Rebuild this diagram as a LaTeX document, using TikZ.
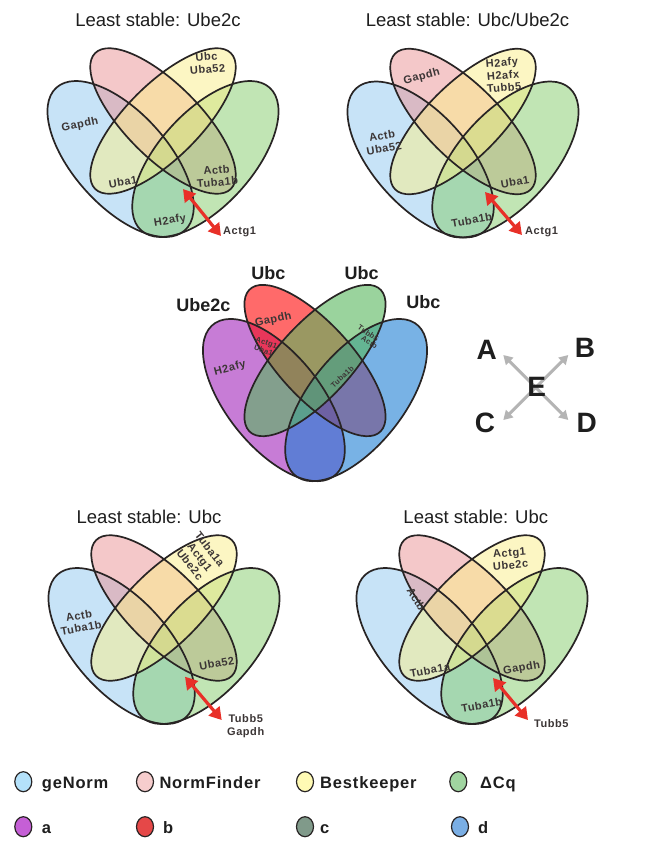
\documentclass[tikz,border=0pt]{standalone}
\usepackage{fontspec}
\setmainfont{Liberation Sans}
\newfontfamily\labf[LetterSpace=5]{Liberation Sans}
\usetikzlibrary{arrows.meta}
\definecolor{cBlue}{RGB}{145,201,241}
\definecolor{cPink}{RGB}{235,147,149}
\definecolor{cYellow}{RGB}{251,239,137}
\definecolor{cGreen}{RGB}{133,205,107}
\definecolor{mPurple}{RGB}{163,38,188}
\definecolor{mRed}{RGB}{255,8,8}
\definecolor{mBlue}{RGB}{30,127,213}
\definecolor{mGreen}{RGB}{87,183,93}
\definecolor{outl}{RGB}{40,36,36}
\definecolor{labc}{RGB}{60,54,54}
\definecolor{titc}{RGB}{30,30,30}
\definecolor{arrred}{RGB}{232,48,40}
\definecolor{egray}{RGB}{180,180,180}
\definecolor{lgBlue}{RGB}{180,225,250}
\definecolor{lgPink}{RGB}{246,205,205}
\definecolor{lgYellow}{RGB}{255,250,180}
\definecolor{lgGreen}{RGB}{160,212,160}
\definecolor{lgA}{RGB}{197,95,214}
\definecolor{lgB}{RGB}{229,72,72}
\definecolor{lgC}{RGB}{128,154,138}
\definecolor{lgD}{RGB}{122,174,228}
\tikzset{
  vline/.style={draw=outl, line width=1.7pt},
  vlabel/.style={font=\labf\bfseries\fontsize{11}{12.5}\selectfont, text=labc, align=center, inner sep=0pt},
  vtitle/.style={font=\fontsize{18.5}{20}\selectfont, text=titc, anchor=base, inner sep=0pt},
  redarr/.style={draw=arrred, line width=3.2pt, arrows={Triangle[length=12pt,width=14pt]-Triangle[length=12pt,width=14pt]}},
  garr/.style={draw=egray, line width=3pt, arrows={Triangle[length=9pt,width=10pt]-Triangle[length=9pt,width=10pt]}},
  vbig/.style={font=\bfseries\fontsize{18}{20}\selectfont, text=titc, inner sep=0pt},
  vsmall/.style={font=\labf\bfseries\fontsize{7.5}{8.5}\selectfont, text=labc, align=center, inner sep=0pt},
  elet/.style={font=\bfseries\fontsize{28}{30}\selectfont, text=titc, inner sep=0pt},
  legc/.style={draw=outl, line width=1.2pt},
  legt/.style={font=\labf\bfseries\fontsize{16.5}{18}\selectfont, text=titc, anchor=base west, inner sep=0pt},
  outL/.style={rotate around={-48:(-42.4,109)}},
  inL/.style={rotate around={-45:(0,71)}},
  inR/.style={rotate around={45:(0,71)}},
  outR/.style={rotate around={48:(42.4,109)}},
}
\newcommand\ellOL{(-42.4,109) ellipse [x radius=96pt, y radius=47pt]}
\newcommand\ellIL{(0,71) ellipse [x radius=96pt, y radius=37pt]}
\newcommand\ellIR{(0,71) ellipse [x radius=96pt, y radius=37pt]}
\newcommand\ellOR{(42.4,109) ellipse [x radius=96pt, y radius=47pt]}
% #1 placement, #2 opacity, #3 outer-left, #4 inner-left, #5 inner-right, #6 outer-right
\newcommand\vennfour[6]{%
  \begin{scope}[#1]
    \begin{scope}[fill opacity=#2]
      \fill[#3, outL] \ellOL;
      \fill[#4, inL] \ellIL;
      \fill[#6, outR] \ellOR;
      \fill[#5, inR] \ellIR;
    \end{scope}
    \draw[vline, outL] \ellOL;
    \draw[vline, inL] \ellIL;
    \draw[vline, outR] \ellOR;
    \draw[vline, inR] \ellIR;
  \end{scope}}
\begin{document}
\begin{tikzpicture}[x=1pt, y=-1pt]
\useasboundingbox[fill=white] (0,0) rectangle (651,844);

% ---------- top-left ----------
\vennfour{shift={(163,50)}}{0.5}{cBlue}{cPink}{cYellow}{cGreen}
\node[vtitle] (t1) at (158,26) {Least stable: Ube2c};
\node[vlabel, rotate=12] (tl1) at (80,125) {Gapdh};
\node[vlabel, rotate=5] (tl2) at (207,63) {Ubc\\Uba52};
\node[vlabel, rotate=10] (tl3) at (123,182) {Uba1};
\node[vlabel, rotate=5] (tl4) at (217,176) {Actb\\Tuba1b};
\node[vlabel, rotate=10] (tl5) at (170,221) {H2afy};
\node[vlabel, anchor=west] (tl6) at (223,232) {Actg1};
\coordinate (tla) at (183,189);
\coordinate (tlb) at (221,236);
\draw[redarr] (tla) -- (tlb);

% ---------- top-right ----------
\vennfour{shift={(463,50.5)}}{0.5}{cBlue}{cPink}{cYellow}{cGreen}
\node[vtitle] (t2) at (467.5,26) {Least stable: Ubc/Ube2c};
\node[vlabel, rotate=15] (tr1) at (421.7,76.7) {Gapdh};
\node[vlabel, rotate=5] (tr2) at (503,75) {H2afy\\H2afx\\Tubb5};
\node[vlabel, rotate=10] (tr3) at (383,142) {Actb\\Uba52};
\node[vlabel, rotate=10] (tr4) at (515,182) {Uba1};
\node[vlabel, rotate=10] (tr5) at (471.7,220) {Tuba1b};
\node[vlabel, anchor=west] (tr6) at (525,232) {Actg1};
\coordinate (tra) at (485,192);
\coordinate (trb) at (522,235);
\draw[redarr] (tra) -- (trb);

% ---------- middle ----------
\vennfour{shift={(315,286.7)}, xscale=0.97, yscale=1.04}{0.6}{mPurple}{mRed}{mGreen}{mBlue}
\node[vbig] (m1) at (203.3,305) {Ube2c};
\node[vbig] (m2) at (268.3,273.3) {Ubc};
\node[vbig] (m3) at (361.7,273.3) {Ubc};
\node[vbig] (m4) at (423.3,301.7) {Ubc};
\node[vlabel, rotate=12] (m5) at (273.3,320) {Gapdh};
\node[vsmall, rotate=-20] (m6) at (265,346.7) {Actg1\\Uba1};
\node[vsmall, rotate=-35] (m7) at (368.3,333.3) {Tubb5};
\node[vsmall, rotate=-35] (m8) at (369.5,342) {Actb};
\node[vsmall, rotate=43] (m9) at (342.3,376.7) {Tuba1b};
\node[vlabel, rotate=15] (m10) at (230,368.3) {H2afy};

% ---------- E arrows ----------
\coordinate (ea) at (503.3,355);
\coordinate (eb) at (568.3,355);
\coordinate (ec) at (503.3,420);
\coordinate (ed) at (568.3,420);
\draw[garr] (ea) -- (ed);
\draw[garr] (eb) -- (ec);
\node[elet] (lA) at (486.7,350) {A};
\node[elet] (lB) at (585,348.3) {B};
\node[elet] (lC) at (485,423.3) {C};
\node[elet] (lD) at (586.7,423.3) {D};
\node[elet] (lE) at (536.7,386.7) {E};

% ---------- bottom-left ----------
\vennfour{shift={(164,537)}}{0.5}{cBlue}{cPink}{cYellow}{cGreen}
\node[vtitle] (t3) at (149,523.3) {Least stable: Ubc};
\node[vlabel, rotate=-52] (bl1) at (200,557) {Tuba1a\\Actg1\\Ube2c};
\node[vlabel, rotate=10] (bl2) at (80,621.7) {Actb\\Tuba1b};
\node[vlabel, rotate=10] (bl3) at (216.7,663.3) {Uba52};
\node[vlabel, anchor=west] (bl4) at (227,726) {Tubb5\\Gapdh};
\coordinate (bla) at (185,676.7);
\coordinate (blb) at (221.7,720);
\draw[redarr] (bla) -- (blb);

% ---------- bottom-right ----------
\vennfour{shift={(472,537)}}{0.5}{cBlue}{cPink}{cYellow}{cGreen}
\node[vtitle] (t4) at (475.8,523.3) {Least stable: Ubc};
\node[vlabel, rotate=5] (br1) at (510,559) {Actg1\\Ube2c};
\node[vlabel, rotate=-60] (br2) at (413.3,595) {Ac};
\node[vlabel, rotate=-60] (br3) at (420,605) {tb};
\node[vlabel, rotate=10] (br4) at (430,670) {Tuba1a};
\node[vlabel, rotate=10] (br5) at (521.7,668.3) {Gapdh};
\node[vlabel, rotate=10] (br6) at (481.7,705) {Tuba1b};
\node[vlabel, anchor=west] (br7) at (534,723.3) {Tubb5};
\coordinate (bra) at (493,678);
\coordinate (brb) at (528,720);
\draw[redarr] (bra) -- (brb);

% ---------- legend ----------
\draw[legc, fill=lgBlue] (23.3,781.7) ellipse [x radius=8.5pt, y radius=10pt];
\node[legt] (g1) at (41.7,788) {geNorm};
\draw[legc, fill=lgPink] (145,781.7) ellipse [x radius=8.5pt, y radius=10pt];
\node[legt] (g2) at (159.3,788) {NormFinder};
\draw[legc, fill=lgYellow] (305,781.7) ellipse [x radius=8.5pt, y radius=10pt];
\node[legt] (g3) at (320,788) {Bestkeeper};
\draw[legc, fill=lgGreen] (458.3,781.7) ellipse [x radius=8.5pt, y radius=10pt];
\node[legt] (g4) at (480,788) {ΔCq};
\draw[legc, fill=lgA] (23.3,826.7) ellipse [x radius=8.5pt, y radius=10pt];
\node[legt] (g5) at (41.7,833) {a};
\draw[legc, fill=lgB] (145,826.7) ellipse [x radius=8.5pt, y radius=10pt];
\node[legt] (g6) at (163,833) {b};
\draw[legc, fill=lgC] (305,826.7) ellipse [x radius=8.5pt, y radius=10pt];
\node[legt] (g7) at (320,833) {c};
\draw[legc, fill=lgD] (460,826.7) ellipse [x radius=8.5pt, y radius=10pt];
\node[legt] (g8) at (478,833) {d};
\end{tikzpicture}
\end{document}
